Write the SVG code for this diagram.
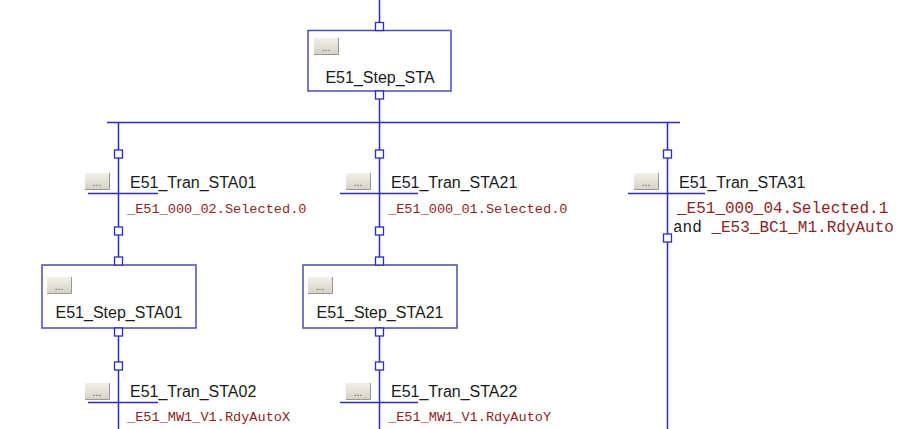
<svg xmlns="http://www.w3.org/2000/svg" xmlns:xlink="http://www.w3.org/1999/xlink" width="909" height="429" viewBox="0 0 909 429">
<style>
.ln{stroke:#2b2bc4;stroke-width:1.5;fill:none}
.box{fill:#fff;stroke:#4b4bb4;stroke-width:1.5}
.pin{fill:#fff;stroke:#2b2bc4;stroke-width:1.3}
.lbl{font-family:"Liberation Sans",Arial,sans-serif;font-size:16px;fill:#1a1a1a}
.cond{font-family:"Liberation Mono","Courier New",monospace;font-size:13.6px;fill:#8e1f1f}
.big{font-size:16px}
.and{font-family:"Liberation Mono","Courier New",monospace;font-size:16px;fill:#1a1a1a}
.dots{font-family:"Liberation Sans",Arial,sans-serif;font-size:10px;fill:#555}
</style>
<defs>
<linearGradient id="bg" x1="0" y1="0" x2="0" y2="1">
<stop offset="0" stop-color="#f2f0ea"/>
<stop offset="1" stop-color="#d6d2c6"/>
</linearGradient>
<g id="btn">
<rect x="0" y="0" width="24" height="16" fill="url(#bg)"/>
<path d="M0 16.5H24.5V0" fill="none" stroke="#9a978e" stroke-width="1"/>
<text x="12" y="13" text-anchor="middle" class="dots">...</text>
</g>
</defs>
<rect width="909" height="429" fill="#fff"/>
<g id="connectors">
<path class="ln" d="M379.5 0V22M379.5 99V150M379.5 158V227M379.5 235V257M379.5 336V362M379.5 370V429"/>
<path class="ln" d="M107 122.5H680"/>
<path class="ln" d="M118.5 122V150M118.5 158V227M118.5 235V257M118.5 336V362M118.5 370V429"/>
<path class="ln" d="M667.5 122V150M667.5 158V234M667.5 242V429"/>
</g>
<g id="step_sta">
<rect class="box" x="308" y="30.5" width="143" height="60.5"/>
<rect class="pin" x="375.5" y="22.5" width="8" height="8"/>
<rect class="pin" x="375.5" y="91" width="8" height="8"/>
<use xlink:href="#btn" x="314" y="38"/>
<text class="lbl" x="380" y="83" text-anchor="middle">E51_Step_STA</text>
</g>
<g id="tran_sta01">
<rect class="pin" x="114.5" y="150" width="8" height="8"/>
<rect class="pin" x="114.5" y="227" width="8" height="8"/>
<path class="ln" d="M88 193.5H158"/>
<use xlink:href="#btn" x="85" y="173"/>
<text class="lbl" x="130" y="188">E51_Tran_STA01</text>
<text class="cond" x="127" y="213">_E51_000_02.Selected.0</text>
</g>
<g id="tran_sta21">
<rect class="pin" x="375.5" y="150" width="8" height="8"/>
<rect class="pin" x="375.5" y="227" width="8" height="8"/>
<path class="ln" d="M340 193.5H418"/>
<use xlink:href="#btn" x="346" y="173"/>
<text class="lbl" x="391" y="188">E51_Tran_STA21</text>
<text class="cond" x="388" y="213">_E51_000_01.Selected.0</text>
</g>
<g id="tran_sta31">
<rect class="pin" x="663.5" y="150" width="8" height="8"/>
<rect class="pin" x="663.5" y="234" width="8" height="8"/>
<path class="ln" d="M628 193.5H705"/>
<use xlink:href="#btn" x="634" y="173"/>
<text class="lbl" x="679" y="188">E51_Tran_STA31</text>
<text class="cond big" x="677" y="213">_E51_000_04.Selected.1</text>
<text x="673" y="232" class="and">and <tspan class="cond big">_E53_BC1_M1.RdyAuto</tspan></text>
</g>
<g id="step_sta01">
<rect class="box" x="42" y="265" width="154" height="63"/>
<rect class="pin" x="114.5" y="257" width="8" height="8"/>
<rect class="pin" x="114.5" y="328" width="8" height="8"/>
<use xlink:href="#btn" x="47" y="277"/>
<text class="lbl" x="119" y="318" text-anchor="middle">E51_Step_STA01</text>
</g>
<g id="step_sta21">
<rect class="box" x="303" y="265" width="154" height="63"/>
<rect class="pin" x="375.5" y="257" width="8" height="8"/>
<rect class="pin" x="375.5" y="328" width="8" height="8"/>
<use xlink:href="#btn" x="308" y="277"/>
<text class="lbl" x="380" y="318" text-anchor="middle">E51_Step_STA21</text>
</g>
<g id="tran_sta02">
<rect class="pin" x="114.5" y="362" width="8" height="8"/>
<path class="ln" d="M88 402.5H158"/>
<use xlink:href="#btn" x="85" y="383"/>
<text class="lbl" x="130" y="397">E51_Tran_STA02</text>
<text class="cond" x="127" y="421">_E51_MW1_V1.RdyAutoX</text>
</g>
<g id="tran_sta22">
<rect class="pin" x="375.5" y="362" width="8" height="8"/>
<path class="ln" d="M340 402.5H418"/>
<use xlink:href="#btn" x="346" y="383"/>
<text class="lbl" x="391" y="397">E51_Tran_STA22</text>
<text class="cond" x="388" y="421">_E51_MW1_V1.RdyAutoY</text>
</g>
</svg>
